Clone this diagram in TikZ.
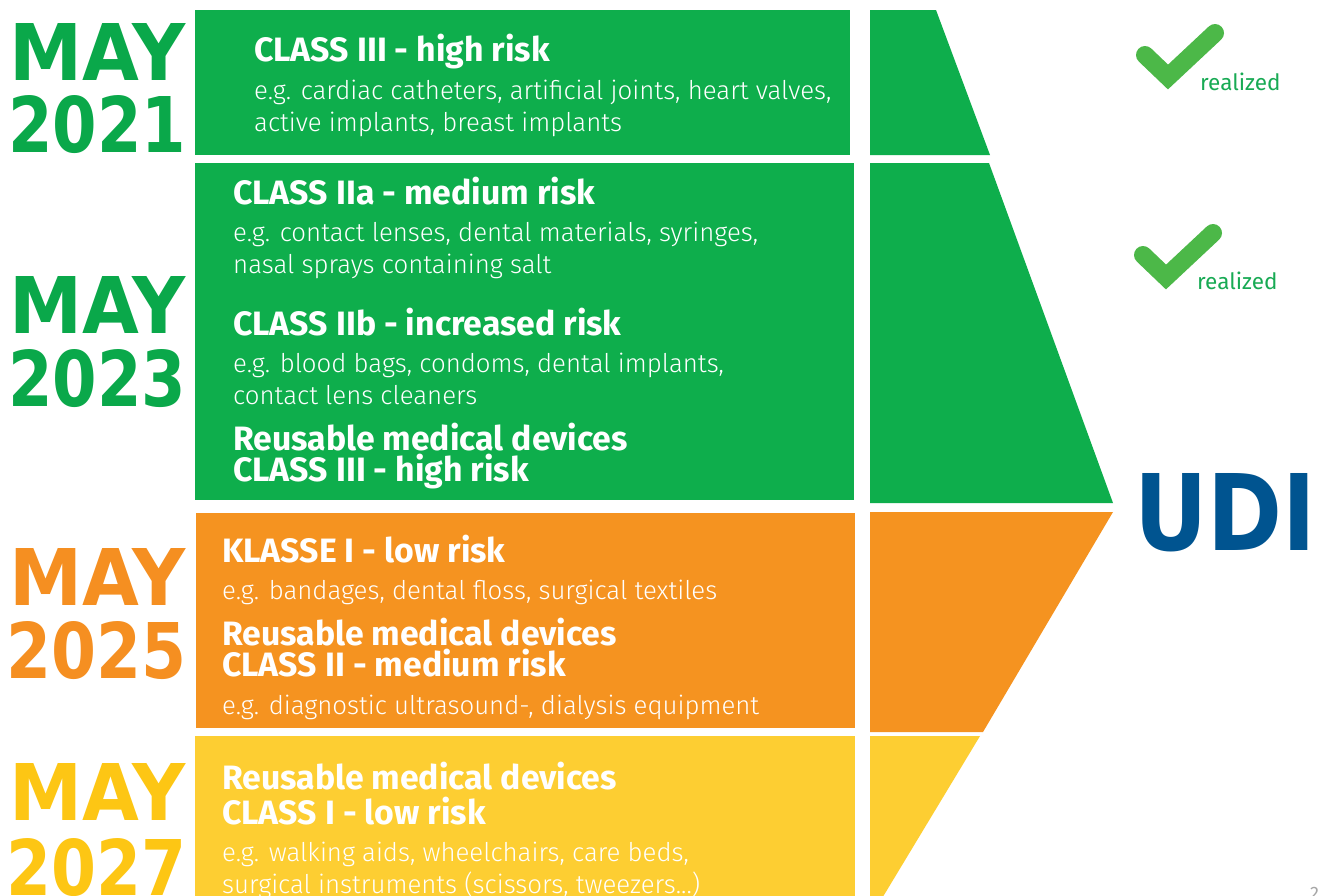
\documentclass[tikz,border=0pt]{standalone}
\usepackage{fontspec}
\usepackage{graphicx}
\setmainfont{Fira Sans}
\newfontfamily\lightfont{Fira Sans Light}
\newfontfamily\yearfont{DejaVu Sans}

\definecolor{grn}{RGB}{14,174,76}
\definecolor{org}{RGB}{245,147,32}
\definecolor{ylw}{RGB}{253,206,50}
\definecolor{yrgrn}{RGB}{10,168,74}
\definecolor{yrorg}{RGB}{245,143,33}
\definecolor{yrylw}{RGB}{253,198,20}
\definecolor{udiblue}{RGB}{0,84,144}
\definecolor{chk}{RGB}{76,184,72}
\definecolor{realgrn}{RGB}{24,170,84}

% big stacked date labels
\newcommand\yearbox[2]{\resizebox{#1pt}{57pt}{\yearfont\bfseries #2}}

\tikzset{
  head/.style={anchor=base west, inner sep=0pt, text=white,
    font=\fontsize{33.8}{38}\selectfont\bfseries},
  body/.style={anchor=base west, inner sep=0pt, text=white,
    font=\lightfont\fontsize{25.8}{30}\selectfont},
  year/.style={anchor=base west, inner sep=0pt},
  tick/.style={line width=18pt, color=chk, line cap=round, line join=miter},
  done/.style={anchor=base west, inner sep=0pt, text=realgrn,
    font=\fontsize{22.5}{26}\selectfont},
}

\begin{document}
\begin{tikzpicture}[x=1pt,y=-1pt]
\useasboundingbox (0,0) rectangle (1322,895);
\fill[white] (0,0) rectangle (1322,895);

% category bands
\fill[grn] (195,10) rectangle (850,155);
\fill[grn] (195,163) rectangle (854,500);
\fill[org] (196,513) rectangle (855,728);
\fill[ylw] (195,736) rectangle (855,900);

% funnel segments
\fill[grn] (870,10) -- (936,10) -- (990,155) -- (870,155) -- cycle;
\fill[grn] (870,163) -- (989,163) -- (1113,503) -- (870,503) -- cycle;
\fill[org] (870,512) -- (1113,512) -- (983,732) -- (870,732) -- cycle;
\fill[ylw] (870,736) -- (980,736) -- (881,900) -- (870,900) -- cycle;

% dates
\node[year, text=yrgrn] (m21) at (9,80) {\yearbox{176}{MAY}};
\node[year, text=yrgrn] (y21) at (8,152) {\yearbox{178}{2021}};
\node[year, text=yrgrn] (m23) at (9,333) {\yearbox{176}{MAY}};
\node[year, text=yrgrn] (y23) at (8,406) {\yearbox{178}{2023}};
\node[year, text=yrorg] (m25) at (9,605) {\yearbox{176}{MAY}};
\node[year, text=yrorg] (y25) at (6,678) {\yearbox{180}{2025}};
\node[year, text=yrylw] (m27) at (9,820) {\yearbox{176}{MAY}};
\node[year, text=yrylw] (y27) at (6,895) {\yearbox{180}{2027}};

% band texts
\node[head] (c3h) at (254,61) {CLASS III - high risk};
\node[body] (c3a) at (254,99) {e.g. cardiac catheters, artificial joints, heart valves,};
\node[body] (c3b) at (254,131) {active implants, breast implants};

\node[head] (c2ah) at (233,204) {CLASS IIa - medium risk};
\node[body] (c2aa) at (233,241) {e.g. contact lenses, dental materials, syringes,};
\node[body] (c2ab) at (233,273) {nasal sprays containing salt};
\node[head] (c2bh) at (233,335) {CLASS IIb - increased risk};
\node[body] (c2ba) at (233,372) {e.g. blood bags, condoms, dental implants,};
\node[body] (c2bb) at (233,404) {contact lens cleaners};
\node[head] (r3a) at (233,450) {Reusable medical devices};
\node[head] (r3b) at (233,481) {CLASS III - high risk};

\node[head] (k1h) at (222,562) {KLASSE I - low risk};
\node[body] (k1a) at (222,599) {e.g. bandages, dental floss, surgical textiles};
\node[head] (r2a) at (222,645) {Reusable medical devices};
\node[head] (r2b) at (222,676) {CLASS II - medium risk};
\node[body] (r2c) at (222,714) {e.g. diagnostic ultrasound-, dialysis equipment};

\node[head] (r1a) at (222,789) {Reusable medical devices};
\node[head] (r1b) at (222,824) {CLASS I - low risk};
\node[body] (r1c) at (222,861) {e.g. walking aids, wheelchairs, care beds,};
\node[body] (r1d) at (222,893) {surgical instruments (scissors, tweezers...)};

% status marks
\draw[tick] (1145,55) -- (1168,77) -- (1215,33);
\node[done] (ok1) at (1200,90) {realized};
\draw[tick] (1143,255) -- (1166,277) -- (1213,233);
\node[done] (ok2) at (1197,289) {realized};

% label
\node[anchor=base west, inner sep=0pt, text=udiblue] (udi) at (1134,550)
  {\resizebox{182pt}{77pt}{\yearfont\bfseries UDI}};

% page number, cut by the edge
\node[anchor=north west, inner sep=0pt, text=black!35,
  font=\fontsize{18}{20}\selectfont] (pg) at (1310,887) {2};
\end{tikzpicture}
\end{document}
